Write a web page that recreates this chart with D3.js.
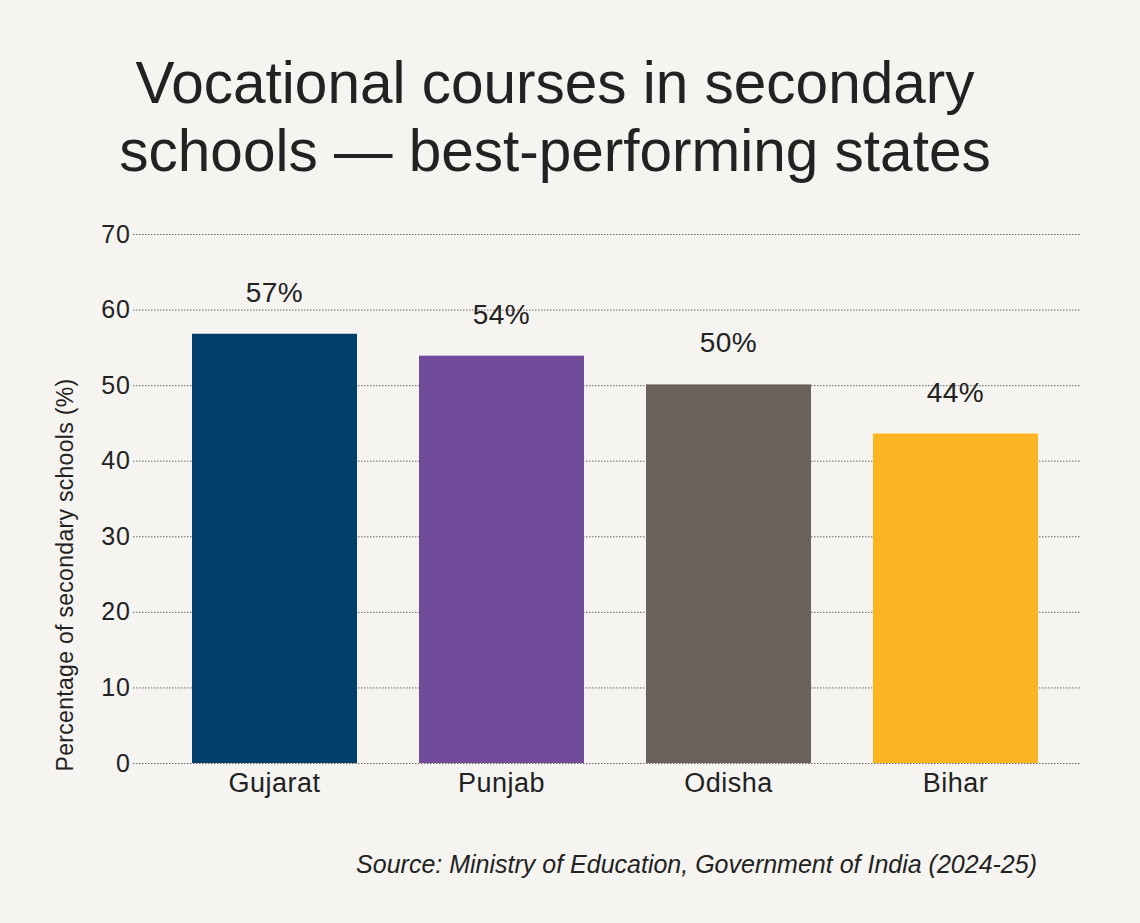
<!DOCTYPE html>
<html>
<head>
<meta charset="utf-8">
<script src="https://cdn.jsdelivr.net/npm/d3@7"></script>
<style>
  html, body { margin: 0; padding: 0; background: #f5f4f0; }
  svg { display: block; }
</style>
</head>
<body>
<script>
const states = ['Gujarat', 'Punjab', 'Odisha', 'Bihar']
const shares = [56.8, 53.9, 50.1, 43.6]
const shareLabels = ['57%', '54%', '50%', '44%']
const barColors = ['#02406b', '#714c9b', '#6b615c', '#fdb422']
const yTicks = [0, 10, 20, 30, 40, 50, 60, 70]

const W = 1140
const H = 923
const font = '"Liberation Sans", Arial, Helvetica, sans-serif'
const ink = '#222'

const svg = d3.create('svg')
  .attr('width', W)
  .attr('height', H)
  .attr('viewBox', [0, 0, W, H])
  .style('background', '#f5f4f0')

const x = d3.scaleBand().domain(states).range([150, 1080])
  .paddingInner(0.273).paddingOuter(0.185)
const y = d3.scaleLinear().domain([0, 70]).range([763, 234])

// grid + tick labels
const yAxis = g => g
  .attr('transform', 'translate(133,0)')
  .call(d3.axisLeft(y).tickValues(yTicks).tickSize(0).tickPadding(2))
  .call(g => g.select('.domain').remove())
  .call(g => g.selectAll('.tick line').clone()
    .attr('x2', 1080 - 133)
    .attr('stroke', '#666')
    .attr('stroke-width', 1)
    .attr('stroke-dasharray', '1.5,1.5'))
  .call(g => g.selectAll('.tick text')
    .attr('font-family', font)
    .attr('font-size', 25)
    .attr('letter-spacing', 1)
    .attr('fill', ink))

svg.append('g').call(yAxis)

svg.append('g')
  .selectAll('rect')
  .data(states).enter()
  .append('rect')
  .attr('x', d => x(d))
  .attr('width', x.bandwidth())
  .attr('y', (d, i) => y(shares[i]))
  .attr('height', (d, i) => y(0) - y(shares[i]))
  .attr('fill', (d, i) => barColors[i])

svg.append('g')
  .selectAll('text')
  .data(states).enter()
  .append('text')
  .text((d, i) => shareLabels[i])
  .attr('x', d => x(d) + x.bandwidth() / 2)
  .attr('y', (d, i) => y(shares[i]) - 32)
  .attr('text-anchor', 'middle')
  .attr('font-family', font)
  .attr('font-size', 28)
  .attr('letter-spacing', 0.5)
  .attr('fill', ink)

const xAxis = g => g
  .attr('transform', `translate(0,${y(0)})`)
  .call(d3.axisBottom(x).tickSize(0).tickPadding(10))
  .call(g => g.select('.domain').remove())
  .call(g => g.selectAll('.tick text')
    .attr('font-family', font)
    .attr('font-size', 27)
    .attr('letter-spacing', 0.5)
    .attr('fill', ink))

svg.append('g').call(xAxis)

svg.append('text')
  .text('Percentage of secondary schools (%)')
  .attr('transform', 'translate(73,575) rotate(-90)')
  .attr('text-anchor', 'middle')
  .attr('font-family', font)
  .attr('font-size', 23)
  .attr('letter-spacing', 0.3)
  .attr('fill', ink)

const title = svg.append('text')
  .attr('text-anchor', 'middle')
  .attr('font-family', font)
  .attr('font-size', 58.5)
  .attr('fill', ink)
title.append('tspan').attr('x', 555).attr('y', 103).text('Vocational courses in secondary')
title.append('tspan').attr('x', 555).attr('y', 171).text('schools \u2014 best-performing states')

svg.append('text')
  .text('Source: Ministry of Education, Government of India (2024-25)')
  .attr('x', 1037)
  .attr('y', 873)
  .attr('text-anchor', 'end')
  .attr('font-family', font)
  .attr('font-style', 'italic')
  .attr('font-size', 25)
  .attr('fill', ink)

document.body.appendChild(svg.node())
</script>
</body>
</html>
